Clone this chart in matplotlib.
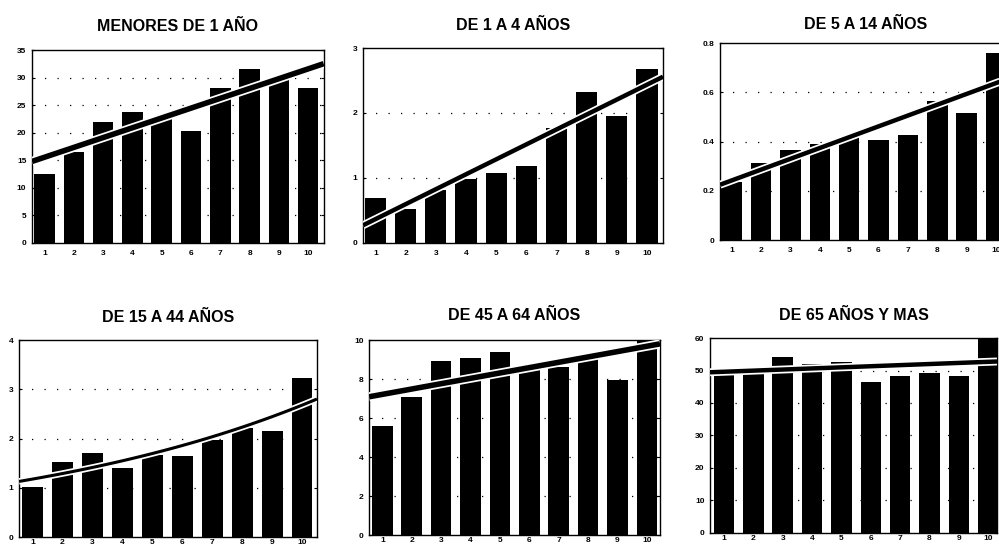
import numpy as np
import matplotlib.pyplot as plt
import matplotlib.patheffects as pe

plt.rcParams['font.family'] = ['Liberation Sans', 'DejaVu Sans']

# decile groups 1..10
deciles = np.arange(1, 11)

menores_1 = [12.55, 16.5, 21.9, 23.7, 22.9, 20.3, 28.2, 31.6, 30.0, 28.1]
de_1_4 = [0.685, 0.53, 0.81, 0.99, 1.08, 1.19, 1.77, 2.33, 1.95, 2.68]
de_5_14 = [0.235, 0.313, 0.365, 0.39, 0.42, 0.405, 0.426, 0.565, 0.517, 0.76]
de_15_44 = [1.02, 1.53, 1.70, 1.40, 1.67, 1.64, 1.98, 2.22, 2.15, 3.22]
de_45_64 = [5.58, 7.1, 8.93, 9.07, 9.4, 8.65, 8.63, 9.05, 7.96, 10.1]
de_65 = [49.7, 49.4, 54.05, 52.1, 52.5, 46.6, 48.2, 49.2, 48.2, 61.5]

titles = ['MENORES DE 1 AÑO', 'DE 1 A 4 AÑOS', 'DE 5 A 14 AÑOS',
          'DE 15 A 44 AÑOS', 'DE 45 A 64 AÑOS', 'DE 65 AÑOS Y MAS']
series = [menores_1, de_1_4, de_5_14, de_15_44, de_45_64, de_65]
yticks = [[0, 5, 10, 15, 20, 25, 30, 35], [0, 1, 2, 3], [0, 0.2, 0.4, 0.6, 0.8],
          [0, 1, 2, 3, 4], [0, 2, 4, 6, 8, 10], [0, 10, 20, 30, 40, 50, 60]]
ytick_labels = [['0', '5', '10', '15', '20', '25', '30', '35'], ['0', '1', '2', '3'],
                ['0', '0.2', '0.4', '0.6', '0.8'], ['0', '1', '2', '3', '4'],
                ['0', '2', '4', '6', '8', '10'], ['0', '10', '20', '30', '40', '50', '60']]
fit_kind = ['lin', 'lin', 'lin', 'exp', 'lin', 'lin']

# axes boxes in figure fractions
boxes = [[0.032, 0.5566, 0.292, 0.352],
         [0.3634, 0.5566, 0.3003, 0.3558],
         [0.7207, 0.562, 0.291, 0.3595],
         [0.019, 0.020, 0.2983, 0.3595],
         [0.3694, 0.0237, 0.2913, 0.3558],
         [0.7107, 0.0274, 0.2873, 0.3558]]
xlims = [(0.57, 10.53), (0.59, 10.53), (0.6, 10.5), (0.555, 10.5), (0.546, 10.45), (0.52, 10.3)]
line_w = [4.0, 3.2, 3.2, 2.2, 4.0, 3.2]
title_pad = [14, 13, 10, 13, 14.5, 13]
xlabel_pad = [5, 5, 5, 1.5, 1.5, 1.5]

fig = plt.figure(figsize=(9.99, 5.48), dpi=100)

for i in range(6):
    ax = fig.add_axes(boxes[i])
    vals = np.array(series[i])
    ticks = yticks[i]
    ax.set_xlim(*xlims[i])
    ax.set_ylim(0, ticks[-1])

    # sparse dotted grid
    for t in ticks[1:-1]:
        ax.axhline(t, color='black', lw=0.9, ls=(0, (1, 9)), zorder=0)

    ax.bar(deciles, vals, width=0.7, color='black', zorder=2)

    # trend fitted to the bars
    xs = np.linspace(xlims[i][0], xlims[i][1], 100)
    if fit_kind[i] == 'exp':
        b, a = np.polyfit(deciles, np.log(vals), 1)
        ys = np.exp(a + b * xs)
    else:
        b, a = np.polyfit(deciles, vals, 1)
        ys = a + b * xs
    ax.plot(xs, ys, color='black', lw=line_w[i], solid_capstyle='butt', zorder=3,
            path_effects=[pe.Stroke(linewidth=line_w[i] + 2.5, foreground='white'), pe.Normal()])

    ax.set_xticks(deciles)
    ax.set_xticklabels([str(d) for d in deciles], fontsize=6, fontweight='bold')
    ax.set_yticks(ticks)
    ax.set_yticklabels(ytick_labels[i], fontsize=6, fontweight='bold')
    ax.tick_params(axis='x', length=0, pad=xlabel_pad[i])
    ax.tick_params(axis='y', direction='in', length=2.5, width=0.8, right=True, pad=4)
    for s in ax.spines.values():
        s.set_linewidth(1.0)
    ax.set_title(titles[i], fontsize=11.5, fontweight='bold', pad=title_pad[i])

fig.savefig('out.png', dpi=100)
